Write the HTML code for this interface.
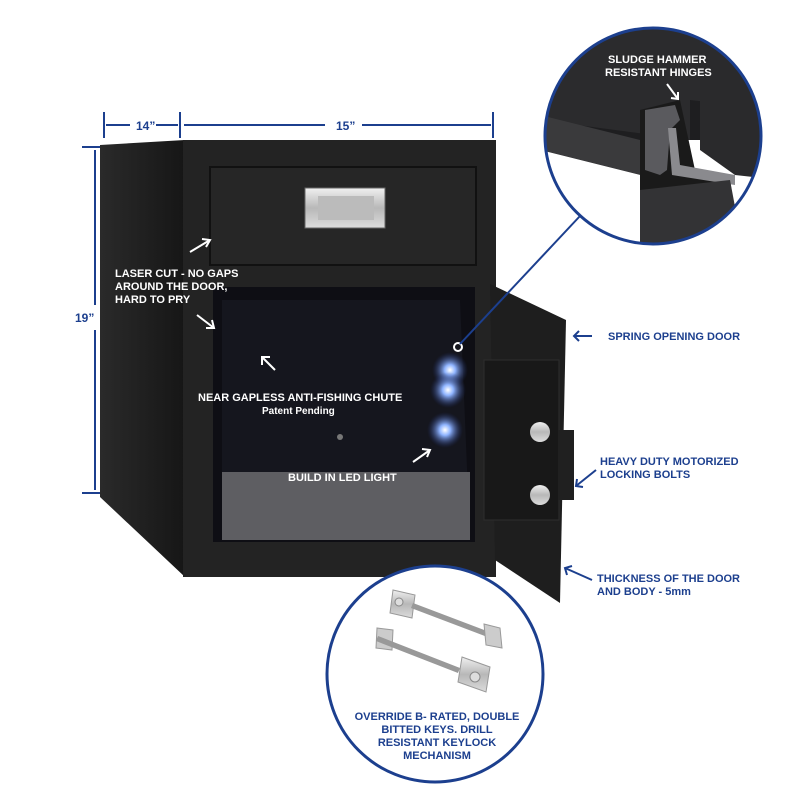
<!DOCTYPE html>
<html><head><meta charset="utf-8"><style>
body{margin:0;width:800px;height:800px;background:#fff;overflow:hidden;font-family:"Liberation Sans",sans-serif}
svg{position:absolute;left:0;top:0}
</style></head><body>
<svg width="800" height="800" viewBox="0 0 800 800" font-family="Liberation Sans, sans-serif" font-weight="bold">
<defs>
<radialGradient id="led" cx="50%" cy="50%" r="50%"><stop offset="0" stop-color="#fff"/><stop offset="0.3" stop-color="#8fb4ff"/><stop offset="1" stop-color="#1a2a6a" stop-opacity="0"/></radialGradient>
<linearGradient id="metal" x1="0" y1="0" x2="0" y2="1"><stop offset="0" stop-color="#f0f0f0"/><stop offset="0.5" stop-color="#b8b8b8"/><stop offset="1" stop-color="#dcdcdc"/></linearGradient>
<linearGradient id="side" x1="0" y1="0" x2="1" y2="0"><stop offset="0" stop-color="#2a2a2a"/><stop offset="1" stop-color="#161616"/></linearGradient>
</defs>
<!-- dimensions -->
<g stroke="#1c3f8e" stroke-width="2" fill="#1c3f8e">
<line x1="104" y1="112" x2="104" y2="138"/><line x1="180" y1="112" x2="180" y2="138"/><line x1="493" y1="112" x2="493" y2="138"/>
<line x1="106" y1="125" x2="130" y2="125"/><line x1="156" y1="125" x2="178" y2="125"/>
<line x1="184" y1="125" x2="325" y2="125"/><line x1="362" y1="125" x2="491" y2="125"/>
<line x1="82" y1="147" x2="108" y2="147"/><line x1="82" y1="493" x2="108" y2="493"/>
<line x1="95" y1="150" x2="95" y2="305"/><line x1="95" y1="330" x2="95" y2="490"/>
</g>
<g fill="#1c3f8e" font-size="12"><text x="136" y="130">14”</text><text x="336" y="130">15”</text><text x="75" y="322">19”</text></g>
<!-- safe body -->
<polygon points="100,145 185,140 185,577 100,497" fill="url(#side)"/>
<rect x="183" y="140" width="313" height="437" fill="#232323"/>
<rect x="210" y="167" width="266" height="98" fill="#262626" stroke="#111" stroke-width="2"/>
<rect x="305" y="188" width="80" height="40" fill="url(#metal)" stroke="#666"/>
<rect x="318" y="196" width="56" height="24" fill="#bbb"/>
<rect x="213" y="287" width="262" height="255" fill="#0e0e14"/>
<polygon points="222,300 460,300 470,540 222,540" fill="#15161e"/>
<polygon points="222,472 470,472 470,540 222,540" fill="#5e5e62"/>
<circle cx="340" cy="437" r="3" fill="#777"/>
<!-- door -->
<polygon points="490,284 566,320 560,603 495,560" fill="#1e1e1e"/>
<rect x="484" y="360" width="75" height="160" fill="#181818" stroke="#2e2e2e"/>
<rect x="558" y="430" width="16" height="70" fill="#202020"/>
<circle cx="540" cy="432" r="10" fill="url(#metal)"/><circle cx="540" cy="495" r="10" fill="url(#metal)"/>
<!-- leds -->
<circle cx="450" cy="370" r="18" fill="url(#led)"/><circle cx="448" cy="390" r="18" fill="url(#led)"/><circle cx="445" cy="430" r="18" fill="url(#led)"/>
<circle cx="458" cy="347" r="4" fill="none" stroke="#fff" stroke-width="2"/>
<line x1="460" y1="344" x2="580" y2="216" stroke="#1c3f8e" stroke-width="2"/>
<!-- white labels -->
<g fill="#fff" font-size="11">
<text x="115" y="277">LASER CUT - NO GAPS</text><text x="115" y="290">AROUND THE DOOR,</text><text x="115" y="303">HARD TO PRY</text>
<text x="198" y="401">NEAR GAPLESS ANTI-FISHING CHUTE</text>
<text x="262" y="414" font-size="10">Patent Pending</text>
<text x="288" y="481">BUILD IN LED LIGHT</text>
</g>
<g stroke="#fff" stroke-width="2" fill="none">
<line x1="190" y1="252" x2="210" y2="240"/><polyline points="202,239 210,240 206,247"/>
<line x1="197" y1="315" x2="214" y2="328"/><polyline points="206,328 214,328 212,320"/>
<line x1="275" y1="370" x2="262" y2="357"/><polyline points="262,365 262,357 270,357"/>
<line x1="413" y1="462" x2="430" y2="450"/><polyline points="422,449 430,450 427,457"/>
</g>
<!-- blue arrows -->
<g stroke="#1c3f8e" stroke-width="2" fill="none">
<line x1="592" y1="336" x2="574" y2="336"/><polyline points="579,331 574,336 579,341"/>
<line x1="596" y1="470" x2="576" y2="486"/><polyline points="577,479 576,486 583,487"/>
<line x1="592" y1="580" x2="565" y2="568"/><polyline points="567,575 565,568 572,566"/>
</g>
<g fill="#1c3f8e" font-size="11">
<text x="608" y="340">SPRING OPENING DOOR</text>
<text x="600" y="465">HEAVY DUTY MOTORIZED</text><text x="600" y="478">LOCKING BOLTS</text>
<text x="597" y="582">THICKNESS OF THE DOOR</text><text x="597" y="595">AND BODY - 5mm</text>
</g>
<!-- top circle -->
<clipPath id="c1"><circle cx="653" cy="136" r="107"/></clipPath>
<circle cx="653" cy="136" r="107" fill="#fff"/>
<g clip-path="url(#c1)">
<rect x="540" y="20" width="240" height="120" fill="#1e1e20"/>
<polygon points="540,20 780,20 780,110 690,100 690,140 540,120" fill="#2b2b2d"/>
<polygon points="540,115 640,140 640,175 540,150" fill="#3a3a3c"/>
<polygon points="540,150 640,175 640,260 540,260" fill="#fff"/>
<polygon points="640,110 680,100 695,170 730,178 740,260 640,260" fill="#1a1a1a"/>
<polygon points="645,110 675,105 680,120 670,130 667,170 660,175 645,170" fill="#5a5a5e"/>
<polygon points="668,128 676,128 680,165 735,175 735,185 672,175" fill="#8a8a8e"/>
<polygon points="640,190 730,180 745,260 640,260" fill="#333335"/>
<polygon points="700,60 780,60 780,180 735,175 700,150" fill="#2a2a2c"/>
</g>
<circle cx="653" cy="136" r="108" fill="none" stroke="#1c3f8e" stroke-width="3"/>
<g fill="#fff" font-size="11"><text x="608" y="63">SLUDGE HAMMER</text><text x="605" y="76">RESISTANT HINGES</text></g>
<g stroke="#fff" stroke-width="2" fill="none"><line x1="667" y1="84" x2="678" y2="99"/><polyline points="678,92 678,99 671,98"/></g>
<!-- bottom circle -->
<circle cx="435" cy="674" r="108" fill="#fff" stroke="#1c3f8e" stroke-width="3"/>
<g>
<polygon points="393,590 415,595 412,618 390,613" fill="url(#metal)" stroke="#999"/>
<circle cx="399" cy="602" r="4" fill="#ddd" stroke="#888"/>
<polygon points="413,603 500,636 498,641 411,608" fill="#999"/>
<polygon points="484,624 500,628 502,648 486,645" fill="#ccc" stroke="#999"/>
<polygon points="377,628 393,630 392,650 376,648" fill="#ccc" stroke="#999"/>
<polygon points="378,636 460,668 458,673 376,641" fill="#999"/>
<polygon points="462,657 490,667 486,692 458,682" fill="url(#metal)" stroke="#999"/>
<circle cx="475" cy="677" r="5" fill="#ddd" stroke="#888"/>
</g>
<g fill="#1c3f8e" font-size="11" text-anchor="middle">
<text x="437" y="720">OVERRIDE B- RATED, DOUBLE</text><text x="437" y="733">BITTED KEYS. DRILL</text><text x="437" y="746">RESISTANT KEYLOCK</text><text x="437" y="759">MECHANISM</text>
</g>
</svg>
</body></html>
